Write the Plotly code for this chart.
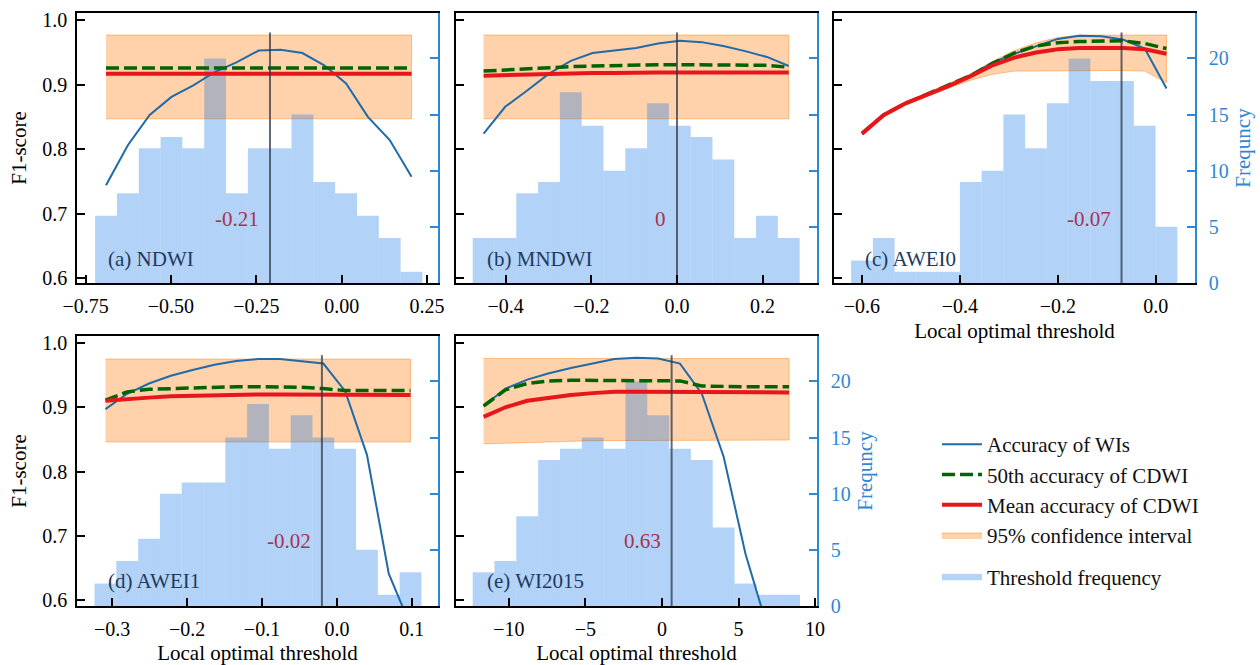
import plotly.graph_objects as go

# ---------------- data ----------------
panel_names = ["(a) NDWI", "(b) MNDWI", "(c) AWEI0", "(d) AWEI1", "(e) WI2015"]
thresholds = [-0.21, 0.0, -0.07, -0.02, 0.63]
threshold_labels = ["-0.21", "0", "-0.07", "-0.02", "0.63"]

bin_start = [-0.722, -0.477, -0.622, -0.3236, -12.37]
bin_width = [0.0639, 0.0509, 0.0444, 0.0291, 1.426]

freq_a = [6, 8, 12, 13, 12, 20, 8, 12, 12, 15, 9, 8, 6, 4, 1]
freq_b = [4, 4, 8, 9, 17, 14, 10, 12, 16, 14, 13, 11, 4, 6, 4]
freq_c = [2, 4, 1, 1, 1, 9, 10, 15, 12, 16, 20, 18, 18, 14, 5]
freq_d = [2, 4, 6, 10, 11, 11, 15, 18, 14, 17, 15, 14, 5, 1, 3]
freq_e = [3, 4, 8, 13, 14, 15, 14, 20, 17, 14, 13, 7, 2, 1, 1]

acc_a = [0.744, 0.806, 0.853, 0.881, 0.899, 0.920, 0.935, 0.953, 0.954, 0.949, 0.930, 0.902, 0.850, 0.814, 0.757]
p50_a = [0.926, 0.926, 0.926, 0.926, 0.926, 0.926, 0.926, 0.926, 0.926, 0.926, 0.926, 0.926, 0.926, 0.926, 0.926]
mean_a = [0.917, 0.917, 0.917, 0.917, 0.917, 0.917, 0.917, 0.917, 0.917, 0.917, 0.917, 0.917, 0.917, 0.917, 0.917]
ci_hi_a = [0.977, 0.977, 0.977, 0.977, 0.977, 0.977, 0.977, 0.977, 0.977, 0.977, 0.977, 0.977, 0.977, 0.977, 0.977]
ci_lo_a = [0.847, 0.847, 0.847, 0.847, 0.847, 0.847, 0.847, 0.847, 0.847, 0.847, 0.847, 0.847, 0.847, 0.847, 0.847]

acc_b = [0.824, 0.866, 0.891, 0.917, 0.937, 0.949, 0.953, 0.957, 0.964, 0.968, 0.966, 0.960, 0.952, 0.943, 0.929]
p50_b = [0.921, 0.923, 0.925, 0.927, 0.928, 0.929, 0.930, 0.930, 0.931, 0.931, 0.931, 0.931, 0.930, 0.930, 0.927]
mean_b = [0.914, 0.915, 0.916, 0.917, 0.918, 0.918, 0.918, 0.919, 0.919, 0.919, 0.919, 0.919, 0.919, 0.919, 0.919]
ci_hi_b = [0.977, 0.977, 0.977, 0.977, 0.977, 0.977, 0.977, 0.977, 0.977, 0.977, 0.977, 0.977, 0.977, 0.977, 0.977]
ci_lo_b = [0.847, 0.847, 0.847, 0.847, 0.847, 0.847, 0.847, 0.847, 0.847, 0.847, 0.847, 0.847, 0.847, 0.847, 0.847]

acc_c = [0.824, 0.853, 0.871, 0.885, 0.899, 0.915, 0.934, 0.948, 0.960, 0.971, 0.976, 0.975, 0.970, 0.956, 0.894]
p50_c = [0.824, 0.853, 0.871, 0.885, 0.899, 0.914, 0.933, 0.949, 0.960, 0.965, 0.967, 0.968, 0.968, 0.964, 0.956]
mean_c = [0.824, 0.853, 0.871, 0.884, 0.898, 0.913, 0.930, 0.942, 0.950, 0.955, 0.957, 0.957, 0.957, 0.955, 0.948]
ci_hi_c = [0.825, 0.854, 0.873, 0.887, 0.902, 0.917, 0.936, 0.953, 0.965, 0.973, 0.977, 0.977, 0.977, 0.977, 0.977]
ci_lo_c = [0.822, 0.850, 0.868, 0.881, 0.895, 0.907, 0.916, 0.921, 0.922, 0.922, 0.922, 0.922, 0.922, 0.921, 0.903]

acc_d = [0.897, 0.921, 0.937, 0.949, 0.958, 0.966, 0.972, 0.975, 0.975, 0.972, 0.968, 0.925, 0.826, 0.641, 0.560]
p50_d = [0.911, 0.924, 0.928, 0.929, 0.931, 0.932, 0.932, 0.932, 0.932, 0.931, 0.929, 0.926, 0.926, 0.926, 0.926]
mean_d = [0.910, 0.913, 0.915, 0.917, 0.918, 0.919, 0.920, 0.920, 0.920, 0.920, 0.920, 0.919, 0.919, 0.919, 0.919]
ci_hi_d = [0.975, 0.975, 0.975, 0.975, 0.975, 0.975, 0.975, 0.975, 0.975, 0.975, 0.975, 0.975, 0.975, 0.975, 0.975]
ci_lo_d = [0.846, 0.846, 0.846, 0.846, 0.846, 0.846, 0.846, 0.846, 0.846, 0.846, 0.846, 0.846, 0.846, 0.846, 0.846]

acc_e = [0.902, 0.929, 0.943, 0.953, 0.961, 0.968, 0.975, 0.977, 0.976, 0.968, 0.921, 0.823, 0.672, 0.558, 0.450]
p50_e = [0.902, 0.927, 0.937, 0.941, 0.942, 0.942, 0.942, 0.942, 0.942, 0.941, 0.933, 0.932, 0.932, 0.932, 0.932]
mean_e = [0.885, 0.900, 0.910, 0.915, 0.919, 0.922, 0.924, 0.924, 0.924, 0.924, 0.923, 0.923, 0.923, 0.923, 0.923]
ci_hi_e = [0.976, 0.976, 0.976, 0.976, 0.976, 0.976, 0.976, 0.976, 0.976, 0.976, 0.976, 0.976, 0.976, 0.976, 0.976]
ci_lo_e = [0.843, 0.844, 0.845, 0.846, 0.847, 0.848, 0.848, 0.849, 0.849, 0.849, 0.849, 0.849, 0.849, 0.849, 0.849]

freqs = [freq_a, freq_b, freq_c, freq_d, freq_e]
accs = [acc_a, acc_b, acc_c, acc_d, acc_e]
p50s = [p50_a, p50_b, p50_c, p50_d, p50_e]
means = [mean_a, mean_b, mean_c, mean_d, mean_e]
ci_his = [ci_hi_a, ci_hi_b, ci_hi_c, ci_hi_d, ci_hi_e]
ci_los = [ci_lo_a, ci_lo_b, ci_lo_c, ci_lo_d, ci_lo_e]

x_ranges = [[-0.775, 0.282], [-0.516, 0.327], [-0.657, 0.080], [-0.347, 0.135], [-13.46, 10.13]]
x_dticks = [0.25, 0.2, 0.2, 0.1, 5]
x_formats = [".2f", ".1f", ".1f", ".1f", "d"]
freq_ticks = [0, 5, 10, 15, 20]
f1_ticks = [0.6, 0.7, 0.8, 0.9, 1.0]

# ---------------- layout geometry (pixels) ----------------
W, H = 1260, 665
x_dom_px = [(77, 438), (456, 817), (834, 1195), (77, 438), (456, 817)]
y_dom_px = [(13, 283), (13, 283), (13, 283), (336, 606), (336, 606)]
f1_ranges = [[0.5922, 1.0112]] * 3 + [[0.5907, 1.0109]] * 2

FONT = "Liberation Serif, Times New Roman, serif"
BLUE_AX = "#2f86d2"
C_ACC = "#1f6aa8"
C_P50 = "#006400"
C_MEAN = "#e8161b"
C_CI_FILL = "rgba(255,127,14,0.35)"
C_CI_LINE = "rgba(255,127,14,0.45)"
C_BAR = "rgba(0,110,230,0.30)"
C_VLINE = "rgba(45,55,70,0.75)"

fig = go.Figure()
layout = dict(
    width=W, height=H, autosize=False,
    margin=dict(l=0, r=0, t=0, b=0, autoexpand=False),
    paper_bgcolor="white", plot_bgcolor="white",
    font=dict(family=FONT, size=20, color="black"),
    showlegend=True,
    legend=dict(x=937 / W, y=1 - 424 / H, xanchor="left", yanchor="top",
                font=dict(family=FONT, size=21, color="#111"),
                bgcolor="rgba(0,0,0,0)", tracegroupgap=11, itemwidth=40),
)
annotations = []

for i in range(5):
    xn = i + 1
    ya, yb, yc = 3 * i + 1, 3 * i + 2, 3 * i + 3
    xref = "x" if xn == 1 else f"x{xn}"
    yref = lambda n: "y" if n == 1 else f"y{n}"
    xkey = "xaxis" if xn == 1 else f"xaxis{xn}"
    ykey = lambda n: "yaxis" if n == 1 else f"yaxis{n}"

    x0, x1 = x_dom_px[i]
    yt, ybm = y_dom_px[i]
    xdom = [x0 / W, x1 / W]
    ydom = [1 - ybm / H, 1 - yt / H]

    n = len(freqs[i])
    centers = [bin_start[i] + (k + 0.5) * bin_width[i] for k in range(n)]
    show = (i == 0)

    # band (base subplot)
    fig.add_trace(go.Scatter(
        x=centers + centers[::-1], y=ci_his[i] + ci_los[i][::-1],
        fill="toself", fillcolor=C_CI_FILL, mode="lines",
        line=dict(color=C_CI_LINE, width=1),
        name="95% confidence interval", legendgroup="g1", legendrank=4,
        showlegend=show, xaxis=xref, yaxis=yref(ya), hoverinfo="skip"))
    # histogram (overlay freq axis)
    fig.add_trace(go.Bar(
        x=centers, y=freqs[i], width=bin_width[i],
        marker=dict(color=C_BAR, line=dict(width=0)),
        name="Threshold frequency", showlegend=False,
        xaxis=xref, yaxis=yref(yb)))
    # lines (overlay F1 axis)
    fig.add_trace(go.Scatter(
        x=centers, y=accs[i], mode="lines", line=dict(color=C_ACC, width=2),
        name="Accuracy of WIs", legendgroup="g1", legendrank=1,
        showlegend=show, xaxis=xref, yaxis=yref(yc)))
    fig.add_trace(go.Scatter(
        x=centers, y=p50s[i], mode="lines",
        line=dict(color=C_P50, width=3.5, dash="13px,5px"),
        name="50th accuracy of CDWI", legendgroup="g1", legendrank=2,
        showlegend=show, xaxis=xref, yaxis=yref(yc)))
    fig.add_trace(go.Scatter(
        x=centers, y=means[i], mode="lines", line=dict(color=C_MEAN, width=4),
        name="Mean accuracy of CDWI", legendgroup="g1", legendrank=3,
        showlegend=show, xaxis=xref, yaxis=yref(yc)))
    fig.add_trace(go.Scatter(
        x=[thresholds[i], thresholds[i]], y=[f1_ranges[i][0], 0.981],
        mode="lines", line=dict(color=C_VLINE, width=2),
        showlegend=False, xaxis=xref, yaxis=yref(yc), hoverinfo="skip"))
    if show:
        # legend swatch for the histogram
        fig.add_trace(go.Scatter(
            x=[None], y=[None], fill="toself", fillcolor="rgb(179,212,248)",
            mode="lines", line=dict(color="rgb(179,212,248)", width=1),
            name="Threshold frequency", legendgroup="g2", legendrank=5,
            showlegend=True, xaxis=xref, yaxis=yref(yc), hoverinfo="skip"))

    bottom_row = i >= 2
    layout[xkey] = dict(
        domain=xdom, anchor=yref(ya), range=x_ranges[i], automargin=False,
        tick0=0, dtick=x_dticks[i], tickformat=x_formats[i],
        ticks="inside", ticklen=8, tickwidth=2, tickcolor="black",
        ticklabelstandoff=4,
        showline=True, linecolor="black", linewidth=1.5, mirror=True,
        showgrid=False, zeroline=False,
        tickfont=dict(family=FONT, size=20, color="black"),
        title=dict(text="Local optimal threshold" if bottom_row else "",
                   font=dict(family=FONT, size=21, color="black"), standoff=8),
    )
    left_lab = i in (0, 3)
    layout[ykey(ya)] = dict(
        domain=ydom, anchor=xref, range=f1_ranges[i], automargin=False,
        tickvals=f1_ticks, tickformat=".1f",
        ticks="inside", ticklen=8, tickwidth=2, tickcolor="black",
        ticklabelstandoff=4,
        showline=True, linecolor="black", linewidth=1.5,
        showgrid=False, zeroline=False, showticklabels=left_lab,
        tickfont=dict(family=FONT, size=20, color="black"),
        title=dict(text="F1-score" if left_lab else "",
                   font=dict(family=FONT, size=21, color="black"), standoff=10),
    )
    right_lab = i in (2, 4)
    layout[ykey(yb)] = dict(
        overlaying=yref(ya), anchor=xref, side="right", range=[0, 24.05],
        automargin=False,
        tickvals=freq_ticks, ticks="inside", ticklen=8, tickwidth=2,
        ticklabelstandoff=8,
        tickcolor=BLUE_AX, showline=True, linecolor=BLUE_AX, linewidth=1.5,
        showgrid=False, zeroline=False, showticklabels=right_lab,
        tickfont=dict(family=FONT, size=20, color=BLUE_AX),
        title=dict(text="Frequncy" if right_lab else "",
                   font=dict(family=FONT, size=21, color=BLUE_AX), standoff=8),
    )
    layout[ykey(yc)] = dict(
        overlaying=yref(ya), anchor=xref, range=f1_ranges[i], visible=False,
        automargin=False,
    )

    annotations.append(dict(
        text=panel_names[i], xref=f"{xref} domain", x=0.08, xanchor="left",
        yref=yref(yc), y=0.630, yanchor="middle", showarrow=False,
        font=dict(family=FONT, size=21, color="#1f3a60")))
    annotations.append(dict(
        text=threshold_labels[i], xref=xref, x=thresholds[i], xanchor="right",
        xshift=-9, yref=yref(yc), y=0.692, yanchor="middle", showarrow=False,
        font=dict(family=FONT, size=21, color="#a8324f")))

layout["annotations"] = annotations
fig.update_layout(**layout)
fig.write_html("out.html")
